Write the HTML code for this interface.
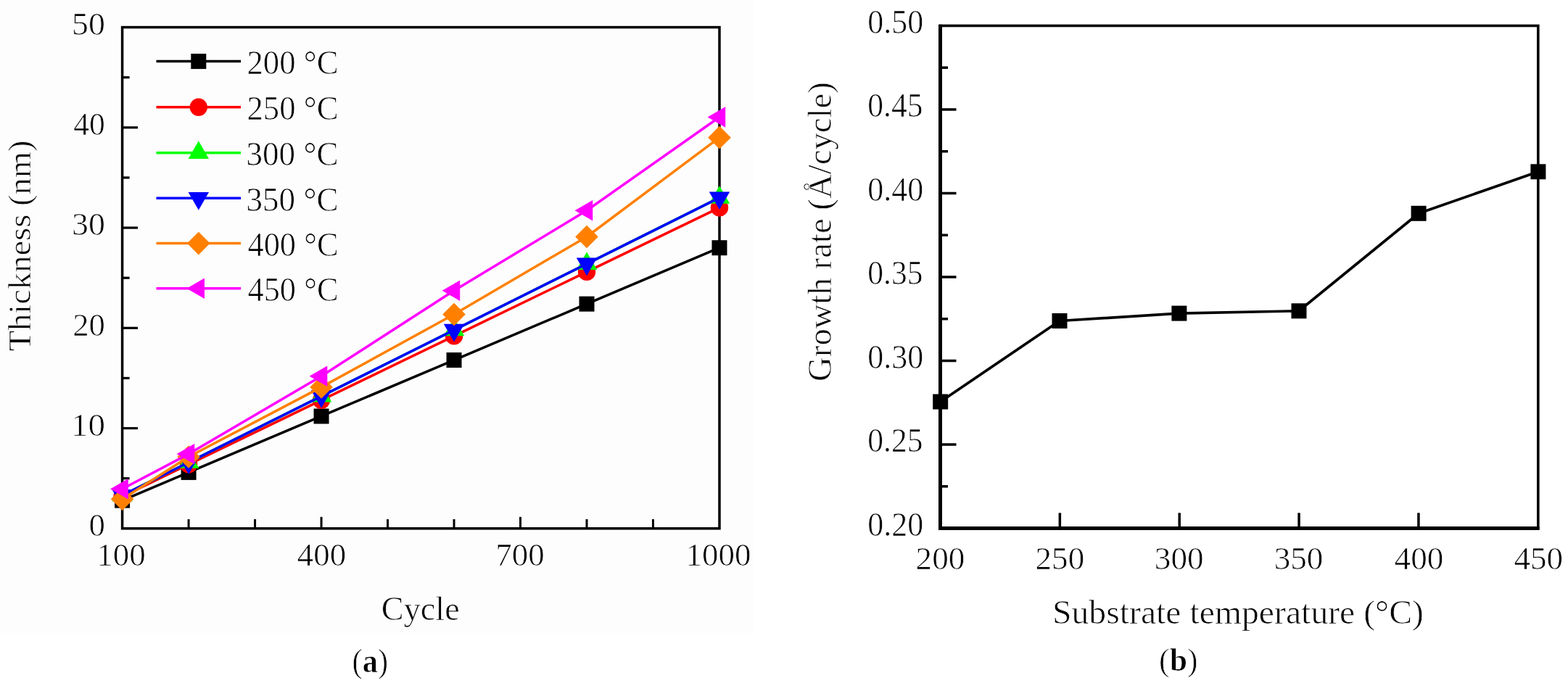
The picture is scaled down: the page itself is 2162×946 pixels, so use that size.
<!DOCTYPE html>
<html><head><meta charset="utf-8"><title>Thickness and growth rate</title>
<style>
html,body{margin:0;padding:0;background:#fff;width:2162px;height:946px;overflow:hidden}
svg{display:block}
text{font-family:"Liberation Serif","DejaVu Serif",serif;fill:#000;stroke:#fff;stroke-width:0.7px}
</style></head><body>
<svg width="2162" height="946" viewBox="0 0 2162 946">
<rect x="0" y="0" width="1038" height="873" fill="#fdfdfd"/>
<line x1="168.6" y1="659.68" x2="178.6" y2="659.68" stroke="#000" stroke-width="3.2"/>
<line x1="168.6" y1="590.56" x2="190" y2="590.56" stroke="#000" stroke-width="3.2"/>
<line x1="168.6" y1="521.44" x2="178.6" y2="521.44" stroke="#000" stroke-width="3.2"/>
<line x1="168.6" y1="452.32" x2="190" y2="452.32" stroke="#000" stroke-width="3.2"/>
<line x1="168.6" y1="383.2" x2="178.6" y2="383.2" stroke="#000" stroke-width="3.2"/>
<line x1="168.6" y1="314.08" x2="190" y2="314.08" stroke="#000" stroke-width="3.2"/>
<line x1="168.6" y1="244.96" x2="178.6" y2="244.96" stroke="#000" stroke-width="3.2"/>
<line x1="168.6" y1="175.84" x2="190" y2="175.84" stroke="#000" stroke-width="3.2"/>
<line x1="168.6" y1="106.72" x2="178.6" y2="106.72" stroke="#000" stroke-width="3.2"/>
<line x1="260.09" y1="728.8" x2="260.09" y2="716" stroke="#000" stroke-width="3"/>
<line x1="351.58" y1="728.8" x2="351.58" y2="716" stroke="#000" stroke-width="3"/>
<line x1="443.07" y1="728.8" x2="443.07" y2="712.8" stroke="#000" stroke-width="3"/>
<line x1="534.56" y1="728.8" x2="534.56" y2="716" stroke="#000" stroke-width="3"/>
<line x1="626.04" y1="728.8" x2="626.04" y2="716" stroke="#000" stroke-width="3"/>
<line x1="717.53" y1="728.8" x2="717.53" y2="712.8" stroke="#000" stroke-width="3"/>
<line x1="809.02" y1="728.8" x2="809.02" y2="716" stroke="#000" stroke-width="3"/>
<line x1="900.51" y1="728.8" x2="900.51" y2="716" stroke="#000" stroke-width="3"/>
<rect x="168.6" y="37.6" width="823.4" height="691.2" fill="none" stroke="#000" stroke-width="3.5"/>
<polyline points="168.6,690.09 260.09,651.39 443.07,573.97 626.04,496.56 809.02,419.14 992,341.73" fill="none" stroke="#000000" stroke-width="3.5" stroke-linejoin="round"/>
<rect x="158.1" y="679.59" width="21" height="21" fill="#000000"/>
<rect x="249.59" y="640.89" width="21" height="21" fill="#000000"/>
<rect x="432.57" y="563.47" width="21" height="21" fill="#000000"/>
<rect x="615.54" y="486.06" width="21" height="21" fill="#000000"/>
<rect x="798.52" y="408.64" width="21" height="21" fill="#000000"/>
<rect x="981.5" y="331.23" width="21" height="21" fill="#000000"/>
<polyline points="168.6,684.56 260.09,640.33 443.07,551.85 626.04,463.38 809.02,374.91 992,286.43" fill="none" stroke="#ff0000" stroke-width="3.5" stroke-linejoin="round"/>
<circle cx="168.6" cy="684.56" r="12.2" fill="#ff0000"/>
<circle cx="260.09" cy="640.33" r="12.2" fill="#ff0000"/>
<circle cx="443.07" cy="551.85" r="12.2" fill="#ff0000"/>
<circle cx="626.04" cy="463.38" r="12.2" fill="#ff0000"/>
<circle cx="809.02" cy="374.91" r="12.2" fill="#ff0000"/>
<circle cx="992" cy="286.43" r="12.2" fill="#ff0000"/>
<polyline points="168.6,683.18 260.09,637.56 443.07,546.32 626.04,455.08 809.02,363.85 992,272.61" fill="none" stroke="#00ff00" stroke-width="3.5" stroke-linejoin="round"/>
<polygon points="168.6,666.73 182.85,691.41 154.35,691.41" fill="#00ff00"/>
<polygon points="260.09,621.11 274.34,645.79 245.84,645.79" fill="#00ff00"/>
<polygon points="443.07,529.87 457.32,554.55 428.82,554.55" fill="#00ff00"/>
<polygon points="626.04,438.63 640.29,463.31 611.79,463.31" fill="#00ff00"/>
<polygon points="809.02,347.39 823.27,372.07 794.77,372.07" fill="#00ff00"/>
<polygon points="992,256.15 1006.25,280.84 977.75,280.84" fill="#00ff00"/>
<polyline points="168.6,683.18 260.09,637.56 443.07,546.32 626.04,455.08 809.02,363.85 992,272.61" fill="none" stroke="#0000ff" stroke-width="3.5" stroke-linejoin="round"/>
<polygon points="168.6,699.64 182.85,674.95 154.35,674.95" fill="#0000ff"/>
<polygon points="260.09,654.02 274.34,629.33 245.84,629.33" fill="#0000ff"/>
<polygon points="443.07,562.78 457.32,538.1 428.82,538.1" fill="#0000ff"/>
<polygon points="626.04,471.54 640.29,446.86 611.79,446.86" fill="#0000ff"/>
<polygon points="809.02,380.3 823.27,355.62 794.77,355.62" fill="#0000ff"/>
<polygon points="992,289.06 1006.25,264.38 977.75,264.38" fill="#0000ff"/>
<polyline points="168.6,688.16 260.09,629.96 443.07,533.88 626.04,433.52 809.02,326.52 992,189.66" fill="none" stroke="#ff8000" stroke-width="3.5" stroke-linejoin="round"/>
<polygon points="168.6,672.36 184.4,688.16 168.6,703.96 152.8,688.16" fill="#ff8000"/>
<polygon points="260.09,614.16 275.89,629.96 260.09,645.76 244.29,629.96" fill="#ff8000"/>
<polygon points="443.07,518.08 458.87,533.88 443.07,549.68 427.27,533.88" fill="#ff8000"/>
<polygon points="626.04,417.72 641.84,433.52 626.04,449.32 610.24,433.52" fill="#ff8000"/>
<polygon points="809.02,310.72 824.82,326.52 809.02,342.32 793.22,326.52" fill="#ff8000"/>
<polygon points="992,173.86 1007.8,189.66 992,205.46 976.2,189.66" fill="#ff8000"/>
<polyline points="168.6,674.2 260.09,626.09 443.07,518.68 626.04,400.76 809.02,290.3 992,161.46" fill="none" stroke="#ff00ff" stroke-width="3.5" stroke-linejoin="round"/>
<polygon points="152.15,674.2 176.83,659.95 176.83,688.45" fill="#ff00ff"/>
<polygon points="243.63,626.09 268.32,611.84 268.32,640.34" fill="#ff00ff"/>
<polygon points="426.61,518.68 451.29,504.43 451.29,532.93" fill="#ff00ff"/>
<polygon points="609.59,400.76 634.27,386.51 634.27,415.01" fill="#ff00ff"/>
<polygon points="792.57,290.3 817.25,276.05 817.25,304.55" fill="#ff00ff"/>
<polygon points="975.55,161.46 1000.23,147.21 1000.23,175.71" fill="#ff00ff"/>
<line x1="215.5" y1="84.6" x2="332.1" y2="84.6" stroke="#000000" stroke-width="3.5"/>
<rect x="263.3" y="74.1" width="21" height="21" fill="#000000"/>
<line x1="215.5" y1="147.8" x2="332.1" y2="147.8" stroke="#ff0000" stroke-width="3.5"/>
<circle cx="273.8" cy="147.8" r="12.2" fill="#ff0000"/>
<line x1="215.5" y1="210.7" x2="332.1" y2="210.7" stroke="#00ff00" stroke-width="3.5"/>
<polygon points="273.8,194.25 288.05,218.93 259.55,218.93" fill="#00ff00"/>
<line x1="215.5" y1="273.3" x2="332.1" y2="273.3" stroke="#0000ff" stroke-width="3.5"/>
<polygon points="273.8,289.75 288.05,265.07 259.55,265.07" fill="#0000ff"/>
<line x1="215.5" y1="335.6" x2="332.1" y2="335.6" stroke="#ff8000" stroke-width="3.5"/>
<polygon points="273.8,319.8 289.6,335.6 273.8,351.4 258,335.6" fill="#ff8000"/>
<line x1="215.5" y1="397.8" x2="332.1" y2="397.8" stroke="#ff00ff" stroke-width="3.5"/>
<polygon points="257.35,397.8 282.03,383.55 282.03,412.05" fill="#ff00ff"/>
<line x1="1296.5" y1="670.75" x2="1307" y2="670.75" stroke="#000" stroke-width="3.5"/>
<line x1="1296.5" y1="613" x2="1318.5" y2="613" stroke="#000" stroke-width="3.5"/>
<line x1="1296.5" y1="555.25" x2="1307" y2="555.25" stroke="#000" stroke-width="3.5"/>
<line x1="1296.5" y1="497.5" x2="1318.5" y2="497.5" stroke="#000" stroke-width="3.5"/>
<line x1="1296.5" y1="439.75" x2="1307" y2="439.75" stroke="#000" stroke-width="3.5"/>
<line x1="1296.5" y1="382" x2="1318.5" y2="382" stroke="#000" stroke-width="3.5"/>
<line x1="1296.5" y1="324.25" x2="1307" y2="324.25" stroke="#000" stroke-width="3.5"/>
<line x1="1296.5" y1="266.5" x2="1318.5" y2="266.5" stroke="#000" stroke-width="3.5"/>
<line x1="1296.5" y1="208.75" x2="1307" y2="208.75" stroke="#000" stroke-width="3.5"/>
<line x1="1296.5" y1="151" x2="1318.5" y2="151" stroke="#000" stroke-width="3.5"/>
<line x1="1296.5" y1="93.25" x2="1307" y2="93.25" stroke="#000" stroke-width="3.5"/>
<line x1="1461.36" y1="728.5" x2="1461.36" y2="707.3" stroke="#000" stroke-width="3.5"/>
<line x1="1626.22" y1="728.5" x2="1626.22" y2="707.3" stroke="#000" stroke-width="3.5"/>
<line x1="1791.08" y1="728.5" x2="1791.08" y2="707.3" stroke="#000" stroke-width="3.5"/>
<line x1="1955.94" y1="728.5" x2="1955.94" y2="707.3" stroke="#000" stroke-width="3.5"/>
<rect x="1296.5" y="35.5" width="824.3" height="693" fill="none" stroke="#000" stroke-width="3.6"/>
<line x1="1296.5" y1="33.7" x2="1296.5" y2="731" stroke="#000" stroke-width="5"/>
<line x1="1294" y1="728.5" x2="2122.6" y2="728.5" stroke="#000" stroke-width="5"/>
<polyline points="1296.7,554 1461,442.5 1625.9,432.1 1791,428.8 1956.1,294.3 2120.9,236.8" fill="none" stroke="#000" stroke-width="3.7" stroke-linejoin="round"/>
<rect x="1286.2" y="543.5" width="21" height="21" fill="#000"/>
<rect x="1450.5" y="432" width="21" height="21" fill="#000"/>
<rect x="1615.4" y="421.6" width="21" height="21" fill="#000"/>
<rect x="1780.5" y="418.3" width="21" height="21" fill="#000"/>
<rect x="1945.6" y="283.8" width="21" height="21" fill="#000"/>
<rect x="2110.4" y="226.3" width="21" height="21" fill="#000"/>
<text font-size="44" transform="translate(122.46,739.1) scale(1.0194,1.0241)">0</text>
<text font-size="44" transform="translate(97.96,600.86) scale(1.0689,1.0241)">10</text>
<text font-size="44" transform="translate(100.17,462.62) scale(1.0162,1.0241)">20</text>
<text font-size="44" transform="translate(99.07,324.38) scale(1.0423,1.0241)">30</text>
<text font-size="44" transform="translate(101.21,186.14) scale(0.9915,1.0241)">40</text>
<text font-size="44" transform="translate(99.07,47.9) scale(1.0423,1.0241)">50</text>
<text font-size="44" transform="translate(133.33,780.05) scale(1.0224,1.0224)">100</text>
<text font-size="44" transform="translate(409.84,780.05) scale(1.0224,1.0224)">400</text>
<text font-size="44" transform="translate(683.28,780.05) scale(1.0224,1.0224)">700</text>
<text font-size="44" transform="translate(945.48,780.05) scale(1.0224,1.0224)">1000</text>
<text font-size="44" transform="translate(1196.2,738.9) scale(1.0014,1.0345)">0.20</text>
<text font-size="44" transform="translate(1196.22,623.4) scale(0.9918,1.0345)">0.25</text>
<text font-size="44" transform="translate(1196.2,507.9) scale(1.0014,1.0345)">0.30</text>
<text font-size="44" transform="translate(1196.22,392.4) scale(0.9918,1.0345)">0.35</text>
<text font-size="44" transform="translate(1196.2,276.9) scale(1.0014,1.0345)">0.40</text>
<text font-size="44" transform="translate(1196.22,161.4) scale(0.9918,1.0345)">0.45</text>
<text font-size="44" transform="translate(1196.2,45.9) scale(1.0014,1.0345)">0.50</text>
<text font-size="44" transform="translate(1262.59,784.5) scale(1.0276,1.0276)">200</text>
<text font-size="44" transform="translate(1427.45,784.5) scale(1.0276,1.0276)">250</text>
<text font-size="44" transform="translate(1591.8,784.5) scale(1.0276,1.0276)">300</text>
<text font-size="44" transform="translate(1756.66,784.5) scale(1.0276,1.0276)">350</text>
<text font-size="44" transform="translate(1922.54,784.5) scale(1.0276,1.0276)">400</text>
<text font-size="44" transform="translate(2087.4,784.5) scale(1.0276,1.0276)">450</text>
<text font-size="44" transform="translate(340.46,102.1) scale(1.0176,1.0517)">200 °C</text>
<text font-size="44" transform="translate(340.46,165.3) scale(1.0176,1.0517)">250 °C</text>
<text font-size="44" transform="translate(339.42,228.2) scale(1.0263,1.0517)">300 °C</text>
<text font-size="44" transform="translate(339.42,290.8) scale(1.0263,1.0517)">350 °C</text>
<text font-size="44" transform="translate(341.49,353.1) scale(1.0092,1.0517)">400 °C</text>
<text font-size="44" transform="translate(341.49,415.3) scale(1.0092,1.0517)">450 °C</text>
<text font-size="46" transform="translate(525.79,854.8) scale(1.0058,1)">Cycle</text>
<text font-size="46" transform="translate(1450.95,860.3) scale(1.0376,1)">Substrate temperature (°C)</text>
<text font-size="45" transform="translate(41.8,484.33) rotate(-90) scale(1.0342,1)">Thickness (nm)</text>
<text font-size="46" transform="translate(1145.6,525.93) rotate(-90) scale(1.0167,1)">Growth rate (Å/cycle)</text>
<text font-size="44" transform="translate(485.47,926.81) scale(0.9660,1.0368)">(<tspan font-weight="bold">a</tspan>)</text>
<text font-size="44" transform="translate(1598.11,924.54) scale(0.9960,1.0205)">(<tspan font-weight="bold">b</tspan>)</text>
</svg>
</body></html>
